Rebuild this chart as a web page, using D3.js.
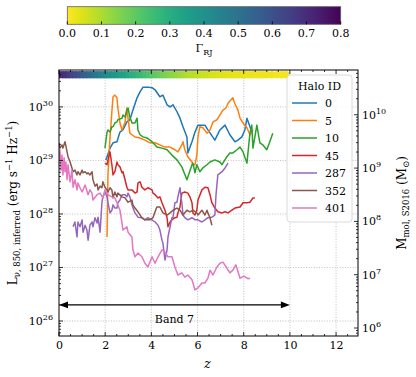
<!DOCTYPE html>
<html><head><meta charset="utf-8">
<script src="https://cdn.jsdelivr.net/npm/d3@7"></script>
<style>
body{margin:0;background:#fff}
svg{display:block}
text{font-family:"DejaVu Serif",serif;fill:#000}
</style>
</head><body>
<svg id="c" width="416" height="377"></svg>
<script>
// ---------------- DATA ----------------
const haloIds = ["0","5","10","45","287","352","401"];
const haloColors = ["#1f77b4","#ff7f0e","#2ca02c","#d62728","#9467bd","#8c564b","#e377c2"];

// [redshift z, log10 L_nu (erg s^-1 Hz^-1)]
const halo0 = [[2.03,29.01],[2.21,29.23],[2.34,29.33],[2.51,29.35],[2.64,29.53],[2.77,29.57],[2.94,29.72],[3.07,29.76],[3.20,29.94],[3.38,30.17],[3.51,30.28],[3.64,30.37],[3.85,30.37],[4.03,30.36],[4.16,30.32],[4.37,30.19],[4.50,30.22],[4.68,30.04],[4.81,30.00],[4.94,30.04],[5.11,29.91],[5.24,29.79],[5.37,29.63],[5.54,29.44],[5.58,29.14],[5.76,29.35],[5.89,29.53],[6.02,29.66],[6.19,29.66],[6.32,29.66],[6.45,29.57],[6.75,29.38],[6.97,29.57],[7.19,29.66],[7.40,29.48],[7.62,29.35],[7.75,29.38],[7.92,29.44],[8.05,29.57],[8.14,29.79],[8.27,29.63],[8.35,29.53]];
const halo5 = [[2.08,27.57],[2.12,28.73],[2.21,29.44],[2.29,29.91],[2.34,30.19],[2.42,30.22],[2.51,30.17],[2.55,29.98],[2.64,29.70],[2.73,29.57],[2.77,29.61],[2.86,29.72],[2.94,29.98],[2.99,29.79],[3.07,29.51],[3.16,29.48],[3.29,29.44],[3.51,29.42],[3.72,29.38],[3.94,29.33],[4.16,29.33],[4.37,29.29],[4.59,29.25],[4.81,29.25],[5.02,29.20],[5.15,29.16],[5.32,29.29],[5.37,29.35],[5.45,29.20],[5.58,29.07],[5.76,28.97],[5.80,28.92],[5.89,28.92],[5.97,29.10],[6.02,29.44],[6.10,29.63],[6.23,29.61],[6.41,29.51],[6.54,29.57],[6.67,29.72],[6.84,29.76],[6.97,29.85],[7.10,29.94],[7.23,29.98],[7.32,30.07],[7.40,30.11],[7.53,30.17],[7.62,30.06],[7.75,29.94],[7.84,29.79],[7.97,29.70],[8.14,29.61],[8.27,29.48],[8.40,29.57]];
const halo10 = [[1.99,29.23],[2.08,29.53],[2.12,29.57],[2.21,29.53],[2.29,29.63],[2.34,29.63],[2.42,29.70],[2.51,29.72],[2.55,29.76],[2.73,29.79],[2.77,29.85],[2.86,29.81],[2.94,29.94],[2.99,29.98],[3.07,29.81],[3.16,29.70],[3.29,29.70],[3.38,29.79],[3.42,29.57],[3.51,29.48],[3.64,29.44],[3.81,29.42],[4.03,29.35],[4.24,29.25],[4.46,29.23],[4.68,29.20],[4.89,29.10],[5.11,29.01],[5.32,28.88],[5.54,28.64],[5.58,28.69],[5.76,28.92],[5.80,28.95],[5.89,28.77],[5.97,28.92],[6.10,28.79],[6.23,28.86],[6.41,28.92],[6.54,28.97],[6.75,29.01],[6.97,28.97],[7.06,28.92],[7.27,29.07],[7.40,29.14],[7.53,29.14],[7.71,29.20],[7.84,29.25],[7.97,29.16],[8.14,28.95],[8.27,29.51],[8.35,29.66],[8.40,29.23],[8.57,29.66],[8.70,29.33],[8.83,29.29],[9.00,29.20],[9.13,29.35],[9.26,29.51]];
const halo45 = [[1.99,28.95],[2.08,28.92],[2.12,29.01],[2.21,29.16],[2.29,28.92],[2.34,28.73],[2.42,28.79],[2.51,28.97],[2.55,28.92],[2.64,28.88],[2.73,28.77],[2.77,28.79],[2.86,28.64],[2.94,28.50],[2.99,28.45],[3.16,28.45],[3.29,28.39],[3.38,28.41],[3.42,28.58],[3.51,28.60],[3.59,28.50],[3.72,28.45],[3.85,28.49],[4.03,28.45],[4.07,28.39],[4.16,28.36],[4.29,28.30],[4.37,28.32],[4.46,28.21],[4.59,28.07],[4.68,27.93],[4.72,27.76],[4.81,27.85],[4.89,27.89],[5.02,27.93],[5.11,27.94],[5.15,28.02],[5.24,28.13],[5.32,28.39],[5.45,28.41],[5.58,28.39],[5.67,28.32],[5.76,28.21],[5.80,28.02],[5.89,27.98],[5.97,28.07],[6.02,28.26],[6.19,28.45],[6.32,28.50],[6.45,28.49],[6.54,28.36],[6.62,28.21],[6.75,28.11],[6.88,28.04],[7.06,28.02],[7.19,28.04],[7.32,28.02],[7.49,28.07],[7.62,28.11],[7.84,28.13],[7.97,28.21],[8.14,28.21],[8.27,28.22],[8.40,28.30],[8.48,28.30]];
const halo287 = [[0.61,27.76],[0.69,27.85],[0.78,27.57],[0.82,27.85],[0.91,27.76],[1.00,27.89],[1.04,27.66],[1.13,27.79],[1.21,27.70],[1.26,27.51],[1.34,27.79],[1.43,27.85],[1.47,27.76],[1.56,27.93],[1.65,27.83],[1.69,27.94],[1.78,27.66],[1.86,28.22],[1.90,28.32],[1.99,28.41],[2.08,28.32],[2.12,28.21],[2.21,28.02],[2.29,28.07],[2.34,28.17],[2.42,28.11],[2.51,28.11],[2.55,28.21],[2.64,28.26],[2.73,28.36],[2.86,28.36],[2.94,28.32],[2.99,28.39],[3.07,28.32],[3.16,28.17],[3.29,28.02],[3.42,27.94],[3.59,27.93],[3.72,27.89],[3.85,27.93],[4.03,27.89],[4.16,27.85],[4.29,27.79],[4.37,27.70],[4.46,27.51],[4.50,27.46],[4.59,27.14],[4.68,27.33],[4.72,27.57],[4.81,27.76],[4.89,27.93],[4.94,27.94],[5.02,28.21],[5.11,28.22],[5.15,28.32],[5.24,28.49],[5.32,28.21],[5.37,27.98],[5.45,27.93],[5.58,27.89],[5.76,27.93],[5.89,27.89],[6.02,27.89],[6.19,27.85],[6.32,27.89],[6.45,27.93],[6.62,27.94],[6.75,27.98],[6.80,28.36],[6.88,28.73],[7.06,28.79],[7.19,28.86],[7.32,28.95]];
const halo352 = [[0.00,29.33],[0.04,29.23],[0.13,29.29],[0.17,29.23],[0.26,29.35],[0.35,29.16],[0.39,29.07],[0.48,28.97],[0.56,28.86],[0.61,28.79],[0.69,28.82],[0.78,28.73],[0.82,28.79],[0.91,28.73],[1.00,28.82],[1.04,28.77],[1.13,28.79],[1.21,28.75],[1.26,28.77],[1.34,28.73],[1.43,28.79],[1.47,28.64],[1.56,28.52],[1.65,28.56],[1.69,28.45],[1.78,28.52],[1.86,28.49],[1.90,28.60],[1.99,28.50],[2.08,28.45],[2.12,28.41],[2.21,28.49],[2.29,28.45],[2.34,28.30],[2.42,28.41],[2.51,28.32],[2.55,28.39],[2.73,28.32],[2.86,28.30],[2.99,28.22],[3.16,28.26],[3.20,28.17],[3.29,28.11],[3.42,28.04],[3.59,27.93],[3.72,27.89],[3.94,27.89],[4.07,27.93],[4.16,28.04],[4.24,28.13],[4.37,28.13],[4.50,28.02],[4.68,27.98],[4.81,28.02],[4.94,28.07],[5.11,28.11],[5.24,28.07],[5.37,27.98],[5.54,28.07],[5.67,28.04],[5.80,28.07],[5.97,28.02],[6.02,27.98],[6.19,28.07],[6.32,27.98],[6.41,28.07],[6.45,28.02],[6.54,27.93],[6.62,27.79]];
const halo401 = [[0.00,29.01],[0.04,29.20],[0.09,28.82],[0.13,29.10],[0.17,28.73],[0.22,29.05],[0.26,28.79],[0.30,28.97],[0.35,28.64],[0.39,28.92],[0.48,28.60],[0.56,28.82],[0.61,28.50],[0.69,28.64],[0.78,28.45],[0.82,28.58],[0.91,28.49],[1.00,28.41],[1.13,28.54],[1.26,28.36],[1.34,28.45],[1.43,28.39],[1.47,28.26],[1.65,28.36],[1.78,28.39],[1.90,28.30],[1.99,28.45],[2.12,28.36],[2.29,28.32],[2.42,28.30],[2.51,28.21],[2.64,28.07],[2.73,27.83],[2.77,27.70],[2.94,27.76],[2.99,27.66],[3.16,27.57],[3.20,27.33],[3.29,27.20],[3.42,27.27],[3.59,27.20],[3.72,27.08],[3.85,27.01],[4.03,27.20],[4.16,27.08],[4.29,27.20],[4.46,27.33],[4.59,27.29],[4.72,27.20],[4.89,27.20],[5.02,27.01],[5.15,26.86],[5.32,26.90],[5.45,26.82],[5.58,26.86],[5.76,26.77],[5.89,26.58],[6.02,26.62],[6.19,26.71],[6.32,26.71],[6.45,26.80],[6.54,26.95],[6.67,26.86],[6.84,27.01],[6.97,27.08],[7.10,27.10],[7.27,26.99],[7.40,26.90],[7.53,26.95],[7.66,27.05],[7.84,26.80],[8.01,26.84],[8.18,26.79],[8.27,26.80]];
const haloSeries = [halo0, halo5, halo10, halo45, halo287, halo352, halo401];

// Rayleigh-Jeans correction strip (z, Gamma_RJ)
const gammaZ = [0,0.15,0.3,0.45,0.6,0.75,0.9,1.05,1.2,1.35,1.5,1.65,1.8,1.95,2.1,2.25,2.4,2.55,2.7,2.85,3.0,3.15,3.3,3.45,3.6,3.75,3.9,4.05,4.2,4.35,4.5,4.65,4.8,4.95,5.1,5.25,5.4,5.55,5.7,5.85,6.0,6.15,6.3,6.45,6.6,6.75,6.9,7.05,7.2,7.35,7.5,7.65,7.8,7.95,8.1,8.25,8.4,8.55,8.7,8.85,9.0,9.22,9.44,9.65,9.83];
const gammaVal = [0.72,0.71,0.69,0.67,0.64,0.62,0.60,0.57,0.55,0.53,0.50,0.48,0.46,0.44,0.42,0.40,0.38,0.37,0.35,0.34,0.32,0.30,0.29,0.27,0.26,0.24,0.23,0.21,0.20,0.19,0.17,0.16,0.15,0.14,0.13,0.12,0.11,0.10,0.09,0.085,0.08,0.07,0.065,0.06,0.055,0.05,0.045,0.04,0.04,0.035,0.035,0.03,0.03,0.03,0.025,0.025,0.025,0.02,0.02,0.02,0.02,0.02,0.015,0.015,0.015];
const gammaStripL = 4e30;

const xTicks = [0,2,4,6,8,10,12];
const cbTicks = [0.0,0.1,0.2,0.3,0.4,0.5,0.6,0.7,0.8];
const leftDecades = [26,27,28,29,30];
const rightDecades = [6,7,8,9,10];
const bandZ = [0,10];
const bandL = 2e26;
const bandLabel = "Band 7";

// ---------------- LAYOUT ----------------
const svg = d3.select("#c");
const L = 59, R = 358, T = 70, B = 336;
const x = d3.scaleLinear().domain([0,12.95]).range([L,R]);
const yL = d3.scaleLog().domain([Math.pow(10,25.72), Math.pow(10,30.69)]).range([B,T]);
const yR = d3.scaleLog().domain([Math.pow(10,5.85), Math.pow(10,10.84)]).range([B,T]);
const cmap = v => d3.interpolateViridis(1 - v/0.8);

svg.append("defs").append("clipPath").attr("id","pc")
  .append("rect").attr("x",L).attr("y",T).attr("width",R-L).attr("height",B-T);

// grid
const grid = svg.append("g").attr("stroke","#b0b0b0").attr("stroke-width",0.8).attr("stroke-dasharray","1,1.6");
xTicks.filter(t=>t>0).forEach(t=>grid.append("line").attr("x1",x(t)).attr("x2",x(t)).attr("y1",T).attr("y2",B));
leftDecades.forEach(d=>grid.append("line").attr("x1",L).attr("x2",R).attr("y1",yL(Math.pow(10,d))).attr("y2",yL(Math.pow(10,d))));

// lines
const plot = svg.append("g").attr("clip-path","url(#pc)");
const line = d3.line().x(d=>x(d[0])).y(d=>yL(Math.pow(10,d[1])));
haloSeries.forEach((s,i)=>{
  plot.append("path").datum(s).attr("d",line).attr("fill","none")
    .attr("stroke",haloColors[i]).attr("stroke-width",1.5).attr("stroke-linejoin","round");
});
// gamma strip
plot.selectAll("circle.g").data(gammaZ).join("circle")
  .attr("cx",d=>x(d)).attr("cy",yL(gammaStripL)).attr("r",3.7)
  .attr("fill",(d,i)=>cmap(gammaVal[i]));

// Band 7 arrow
const ay = yL(bandL);
svg.append("line").attr("x1",x(bandZ[0])+5).attr("x2",x(bandZ[1])-5).attr("y1",ay).attr("y2",ay)
  .attr("stroke","#000").attr("stroke-width",1.3);
[[x(bandZ[0]),1],[x(bandZ[1]),-1]].forEach(([px,dir])=>{
  svg.append("path").attr("d",`M${px},${ay} L${px+dir*9},${ay-3.3} L${px+dir*9},${ay+3.3} Z`).attr("fill","#000");
});
svg.append("text").attr("x",x((bandZ[0]+bandZ[1])/2)).attr("y",ay+18).attr("text-anchor","middle")
  .attr("font-size",11).text(bandLabel);

// frame
svg.append("rect").attr("x",L).attr("y",T).attr("width",R-L).attr("height",B-T)
  .attr("fill","none").attr("stroke","#000").attr("stroke-width",1);

// x ticks (bottom + top, inward) and labels
const tk = svg.append("g").attr("stroke","#000").attr("stroke-width",0.8);
d3.range(0,13,0.5).forEach(t=>{
  const major = xTicks.includes(t), len = major?4:2;
  tk.append("line").attr("x1",x(t)).attr("x2",x(t)).attr("y1",B).attr("y2",B-len);
  tk.append("line").attr("x1",x(t)).attr("x2",x(t)).attr("y1",T).attr("y2",T+len);
});
const xAxis = d3.axisBottom(x).tickValues(xTicks).tickSize(0).tickPadding(5).tickFormat(d3.format("d"));
const xg = svg.append("g").attr("transform",`translate(0,${B})`).call(xAxis);
xg.select(".domain").remove();
xg.selectAll("text").attr("font-size",11).attr("font-family","DejaVu Serif");

// log ticks
function logTicks(scale, xpos, dir){
  scale.ticks().forEach(v=>{
    const lg = Math.log10(v), major = Math.abs(lg-Math.round(lg))<1e-9;
    tk.append("line").attr("x1",xpos).attr("x2",xpos+dir*(major?4:2))
      .attr("y1",scale(v)).attr("y2",scale(v));
  });
}
logTicks(yL, L, 1);
logTicks(yR, R, -1);

function powLabel(g, px, py, exp, anchor){
  const t = g.append("text").attr("x",px).attr("y",py+4).attr("text-anchor",anchor).attr("font-size",11);
  t.append("tspan").text("10");
  t.append("tspan").attr("dy",-5).attr("font-size",8).text(exp);
}
leftDecades.forEach(d=>powLabel(svg, L-6, yL(Math.pow(10,d)), d, "end"));
rightDecades.forEach(d=>powLabel(svg, R+4, yR(Math.pow(10,d)), d, "start"));

// axis titles
const ly = svg.append("text").attr("transform",`translate(17,${(T+B)/2}) rotate(-90)`).attr("text-anchor","middle").attr("font-size",12);
ly.append("tspan").text("L");
ly.append("tspan").attr("dy",3).attr("font-size",8.5).text("ν, 850, inferred");
ly.append("tspan").attr("dy",-3).text(" (erg s");
ly.append("tspan").attr("dy",-5).attr("font-size",8.5).text("−1");
ly.append("tspan").attr("dy",5).text(" Hz");
ly.append("tspan").attr("dy",-5).attr("font-size",8.5).text("−1");
ly.append("tspan").attr("dy",5).text(")");

const ry = svg.append("text").attr("transform",`translate(406,${(T+B)/2}) rotate(-90)`).attr("text-anchor","middle").attr("font-size",12);
ry.append("tspan").text("M");
ry.append("tspan").attr("dy",3).attr("font-size",8.5).text("mol, S2016");
ry.append("tspan").attr("dy",-3).text(" (M");
ry.append("tspan").attr("dy",3).attr("font-size",8.5).text("⊙");
ry.append("tspan").attr("dy",-3).text(")");

svg.append("text").attr("x",(L+R)/2 - 1).attr("y",368).attr("text-anchor","middle")
  .attr("font-size",13).attr("font-style","italic").text("z");

// legend
const lg = svg.append("g");
lg.append("rect").attr("x",287).attr("y",75).attr("width",65).attr("height",147).attr("rx",3)
  .attr("fill","#fff").attr("fill-opacity",0.8).attr("stroke","#d0d0d0").attr("stroke-width",0.8);
lg.append("text").attr("x",319.5).attr("y",90).attr("text-anchor","middle").attr("font-size",11).text("Halo ID");
haloIds.forEach((id,i)=>{
  const yy = 103 + i*17.5;
  lg.append("line").attr("x1",292).attr("x2",317).attr("y1",yy).attr("y2",yy)
    .attr("stroke",haloColors[i]).attr("stroke-width",1.5);
  lg.append("text").attr("x",325).attr("y",yy+4).attr("font-size",11).text(id);
});

// colorbar
const cbx = d3.scaleLinear().domain([0,0.8]).range([67.3,340.7]);
const cbT = 6.7, cbB = 24.3;
const grad = svg.select("defs").append("linearGradient").attr("id","vg");
d3.range(0,1.0001,0.05).forEach(t=>grad.append("stop").attr("offset",t).attr("stop-color",cmap(t*0.8)));
svg.append("rect").attr("x",cbx(0)).attr("y",cbT).attr("width",cbx(0.8)-cbx(0)).attr("height",cbB-cbT)
  .attr("fill","url(#vg)").attr("stroke","#606060").attr("stroke-width",0.8);
cbTicks.forEach(t=>{
  svg.append("line").attr("x1",cbx(t)).attr("x2",cbx(t)).attr("y1",cbB).attr("y2",cbB-3).attr("stroke","#000").attr("stroke-width",0.8);
  svg.append("text").attr("x",cbx(t)).attr("y",37).attr("text-anchor","middle").attr("font-size",11).text(t.toFixed(1));
});
const gt = svg.append("text").attr("x",(cbx(0)+cbx(0.8))/2).attr("y",52).attr("text-anchor","middle").attr("font-size",11);
gt.append("tspan").text("Γ");
gt.append("tspan").attr("dy",3).attr("font-size",8).text("RJ");
</script>
</body></html>
